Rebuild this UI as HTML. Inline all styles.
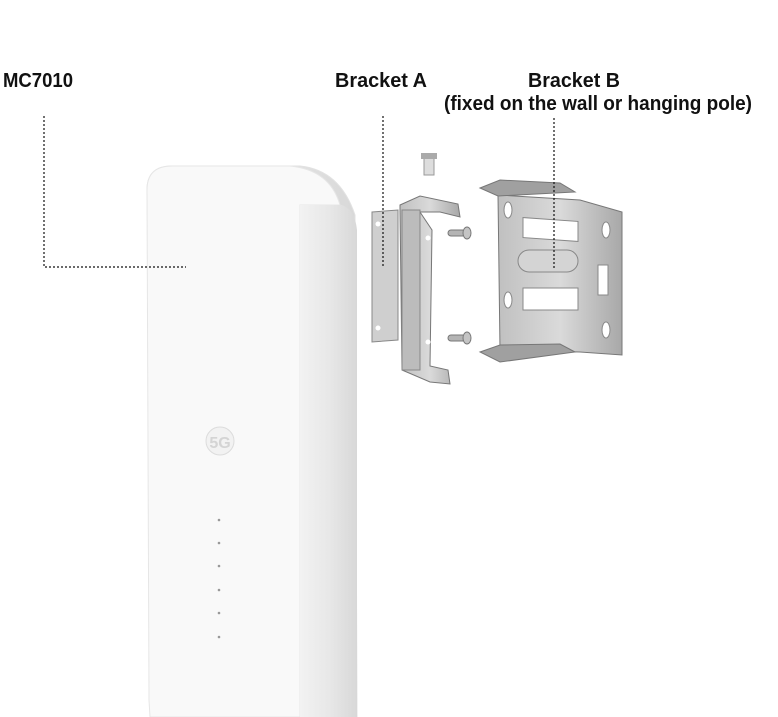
<!DOCTYPE html>
<html><head><style>
html,body{margin:0;padding:0;background:#fff;width:778px;height:717px;overflow:hidden}
svg{display:block}
text{font-family:"Liberation Sans",sans-serif;font-weight:bold;fill:#111}
</style></head><body>
<svg width="778" height="717" viewBox="0 0 778 717">
<defs>
<linearGradient id="side" x1="0" x2="1"><stop offset="0" stop-color="#f2f2f2"/><stop offset="0.5" stop-color="#e8e8e8"/><stop offset="1" stop-color="#d8d8d8"/></linearGradient>
<linearGradient id="met" x1="0" x2="1"><stop offset="0" stop-color="#c0c0c0"/><stop offset="0.5" stop-color="#dadada"/><stop offset="1" stop-color="#a8a8a8"/></linearGradient>
</defs>
<text x="3" y="87" font-size="20" textLength="70" lengthAdjust="spacingAndGlyphs">MC7010</text>
<text x="335" y="87" font-size="20" textLength="92" lengthAdjust="spacingAndGlyphs">Bracket A</text>
<text x="528" y="87" font-size="20" textLength="92" lengthAdjust="spacingAndGlyphs">Bracket B</text>
<text x="444" y="110" font-size="20" textLength="308" lengthAdjust="spacingAndGlyphs">(fixed on the wall or hanging pole)</text>
<!-- device -->
<path d="M147,190 Q147,166 172,166 L300,166 Q340,170 355,215 L357,717 L300,717 Z" fill="url(#side)" stroke="#e2e2e2"/>
<path d="M147,190 Q147,166 172,166 L290,166 Q330,170 340,205 L300,205 L300,717 L150,717 L149,700 Z" fill="#f9f9f9" stroke="#e6e6e6"/>
<path d="M300,205 L342,205 Q355,210 357,230 L357,717 L300,717 Z" fill="url(#side)"/>
<circle cx="220" cy="441" r="14" fill="#f2f2f2" stroke="#dcdcdc"/>
<text x="220" y="448" font-size="16" text-anchor="middle" style="fill:#d4d4d4">5G</text>
<g fill="#999"><circle cx="219" cy="520" r="1.3"/><circle cx="219" cy="543" r="1.3"/><circle cx="219" cy="566" r="1.3"/><circle cx="219" cy="590" r="1.3"/><circle cx="219" cy="613" r="1.3"/><circle cx="219" cy="637" r="1.3"/></g>
<!-- bracket A -->
<path d="M372,212 L398,210 L398,340 L372,342 Z" fill="#cfcfcf" stroke="#888"/>
<path d="M400,205 L400,210 L402,370 L430,382 L450,384 L448,370 L430,366 L432,230 L420,212 L440,212 L460,217 L458,204 L420,196 Z" fill="url(#met)" stroke="#777"/>
<path d="M402,210 L420,210 L420,370 L402,370 Z" fill="#bcbcbc" stroke="#888"/>
<circle cx="378" cy="224" r="2.5" fill="#fff"/><circle cx="378" cy="328" r="2.5" fill="#fff"/>
<circle cx="428" cy="238" r="2.5" fill="#fff"/><circle cx="428" cy="342" r="2.5" fill="#fff"/>
<!-- screws -->
<rect x="424" y="155" width="10" height="20" fill="#ddd" stroke="#999"/>
<rect x="421" y="153" width="16" height="6" fill="#aaa"/>
<rect x="448" y="230" width="18" height="6" rx="3" fill="#b4b4b4" stroke="#777"/>
<ellipse cx="467" cy="233" rx="4" ry="6" fill="#c4c4c4" stroke="#777"/>
<rect x="448" y="335" width="18" height="6" rx="3" fill="#b4b4b4" stroke="#777"/>
<ellipse cx="467" cy="338" rx="4" ry="6" fill="#c4c4c4" stroke="#777"/>
<!-- bracket B -->
<path d="M498,195 L580,200 L622,212 L622,355 L580,352 L500,350 Z" fill="url(#met)" stroke="#777"/>
<path d="M480,188 L500,180 L560,183 L575,192 L498,196 Z" fill="#a0a0a0" stroke="#777"/>
<path d="M480,352 L500,345 L560,344 L575,352 L500,362 Z" fill="#a0a0a0" stroke="#777"/>
<rect x="523" y="218" width="55" height="20" fill="#fff" stroke="#888" transform="skewY(4) translate(0,-37)"/>
<rect x="518" y="250" width="60" height="22" rx="11" fill="#d4d4d4" stroke="#888"/>
<rect x="523" y="288" width="55" height="22" fill="#fff" stroke="#888"/>
<ellipse cx="606" cy="230" rx="4" ry="8" fill="#fff" stroke="#888"/>
<ellipse cx="606" cy="330" rx="4" ry="8" fill="#fff" stroke="#888"/>
<rect x="598" y="265" width="10" height="30" fill="#fff" stroke="#888"/>
<ellipse cx="508" cy="210" rx="4" ry="8" fill="#fff" stroke="#888"/>
<ellipse cx="508" cy="300" rx="4" ry="8" fill="#fff" stroke="#888"/>
<g stroke="#111" stroke-width="1.2" stroke-dasharray="2,2" fill="none">
<path d="M44,116 L44,267 L186,267"/>
<path d="M383,116 L383,268"/>
<path d="M554,118 L554,268"/>
</g>
</svg>
</body></html>
